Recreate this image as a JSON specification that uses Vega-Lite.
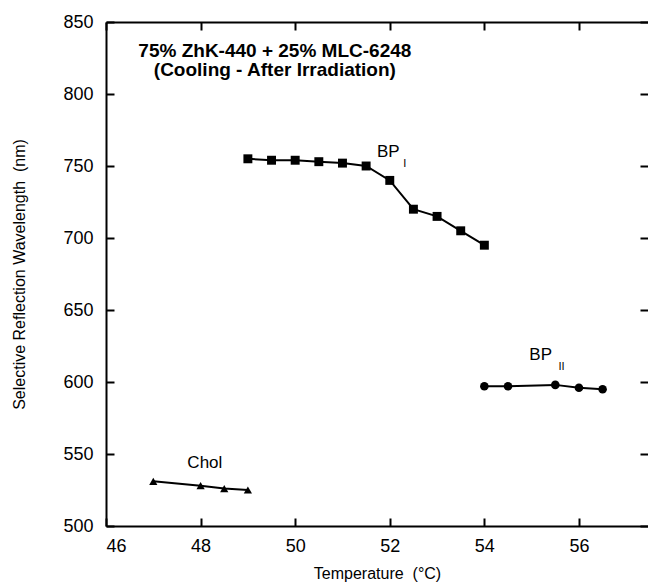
{
  "$schema": "https://vega.github.io/schema/vega-lite/v6.json",
  "width": 542,
  "height": 504,
  "autosize": {"type": "none"},
  "padding": {"left": 106, "top": 22, "right": 0, "bottom": 59},
  "background": "white",
  "config": {
    "view": {"stroke": null},
    "font": "Liberation Sans",
    "axis": {
      "grid": false,
      "domainColor": "black",
      "domainWidth": 2,
      "tickColor": "black",
      "tickWidth": 2,
      "tickSize": -8,
      "labelColor": "black",
      "labelFont": "Liberation Sans",
      "labelFontSize": 18,
      "labelPadding": 21,
      "titleFont": "Liberation Sans",
      "titleFontSize": 16,
      "titleFontWeight": "normal",
      "titleColor": "black"
    }
  },
  "datasets": {
    "points": [
      {"phase": "BPI", "temp": 49, "wl": 755},
      {"phase": "BPI", "temp": 49.5, "wl": 754},
      {"phase": "BPI", "temp": 50, "wl": 754},
      {"phase": "BPI", "temp": 50.5, "wl": 753},
      {"phase": "BPI", "temp": 51, "wl": 752},
      {"phase": "BPI", "temp": 51.5, "wl": 750},
      {"phase": "BPI", "temp": 52, "wl": 740},
      {"phase": "BPI", "temp": 52.5, "wl": 720},
      {"phase": "BPI", "temp": 53, "wl": 715},
      {"phase": "BPI", "temp": 53.5, "wl": 705},
      {"phase": "BPI", "temp": 54, "wl": 695},
      {"phase": "BPII", "temp": 54, "wl": 597},
      {"phase": "BPII", "temp": 54.5, "wl": 597},
      {"phase": "BPII", "temp": 55.5, "wl": 598},
      {"phase": "BPII", "temp": 56, "wl": 596},
      {"phase": "BPII", "temp": 56.5, "wl": 595},
      {"phase": "Chol", "temp": 47, "wl": 531},
      {"phase": "Chol", "temp": 48, "wl": 528},
      {"phase": "Chol", "temp": 48.5, "wl": 526},
      {"phase": "Chol", "temp": 49, "wl": 525}
    ],
    "labels": [
      {"text": "BP", "temp": 51.97, "wl": 760},
      {"text": "BP", "temp": 55.19, "wl": 618.8},
      {"text": "Chol", "temp": 48.09, "wl": 544}
    ],
    "subs": [
      {"text": "I", "temp": 52.32, "wl": 751.4},
      {"text": "II", "temp": 55.63, "wl": 610.4}
    ],
    "title": [
      {"text": "75% ZhK-440 + 25% MLC-6248", "temp": 49.57, "wl": 825.9},
      {"text": "(Cooling - After Irradiation)", "temp": 49.57, "wl": 812.5}
    ]
  },
  "layer": [
    {
      "data": {"name": "points"},
      "mark": {"type": "line", "color": "black", "strokeWidth": 2},
      "encoding": {
        "x": {
          "field": "temp", "type": "quantitative",
          "scale": {"domain": [46, 57.46], "nice": false, "zero": false},
          "axis": {"orient": "bottom", "values": [46, 48, 50, 52, 54, 56], "title": "Temperature\u00a0 (°C)", "titlePadding": 10, "labelPadding": 19}
        },
        "y": {
          "field": "wl", "type": "quantitative",
          "scale": {"domain": [500, 850], "nice": false, "zero": false},
          "axis": {"orient": "left", "values": [500, 550, 600, 650, 700, 750, 800, 850], "title": "Selective Reflection Wavelength\u00a0 (nm)", "titlePadding": 35}
        },
        "detail": {"field": "phase"}
      }
    },
    {
      "data": {"name": "points"},
      "mark": {"type": "point", "filled": true, "color": "black", "opacity": 1},
      "encoding": {
        "x": {
          "field": "temp", "type": "quantitative",
          "axis": {"orient": "top", "values": [46, 48, 50, 52, 54, 56], "labels": false, "title": null}
        },
        "y": {
          "field": "wl", "type": "quantitative",
          "axis": {"orient": "right", "values": [500, 550, 600, 650, 700, 750, 800, 850], "labels": false, "title": null, "domain": false}
        },
        "shape": {
          "field": "phase", "type": "nominal",
          "scale": {"domain": ["BPI", "BPII", "Chol"], "range": ["square", "circle", "triangle-up"]},
          "legend": null
        },
        "size": {
          "field": "phase", "type": "nominal",
          "scale": {"domain": ["BPI", "BPII", "Chol"], "range": [80, 68, 130]},
          "legend": null
        }
      }
    },
    {
      "data": {"name": "labels"},
      "mark": {"type": "text", "fontSize": 17, "color": "black", "align": "center", "baseline": "middle"},
      "encoding": {
        "x": {"field": "temp", "type": "quantitative", "axis": null},
        "y": {"field": "wl", "type": "quantitative", "axis": null},
        "text": {"field": "text"}
      }
    },
    {
      "data": {"name": "subs"},
      "mark": {"type": "text", "fontSize": 11, "color": "black", "align": "center", "baseline": "middle"},
      "encoding": {
        "x": {"field": "temp", "type": "quantitative", "axis": null},
        "y": {"field": "wl", "type": "quantitative", "axis": null},
        "text": {"field": "text"}
      }
    },
    {
      "data": {"name": "title"},
      "mark": {"type": "text", "fontSize": 19, "fontWeight": "bold", "color": "black", "align": "center", "baseline": "alphabetic"},
      "encoding": {
        "x": {"field": "temp", "type": "quantitative", "axis": null},
        "y": {"field": "wl", "type": "quantitative", "axis": null},
        "text": {"field": "text"}
      }
    }
  ]
}
